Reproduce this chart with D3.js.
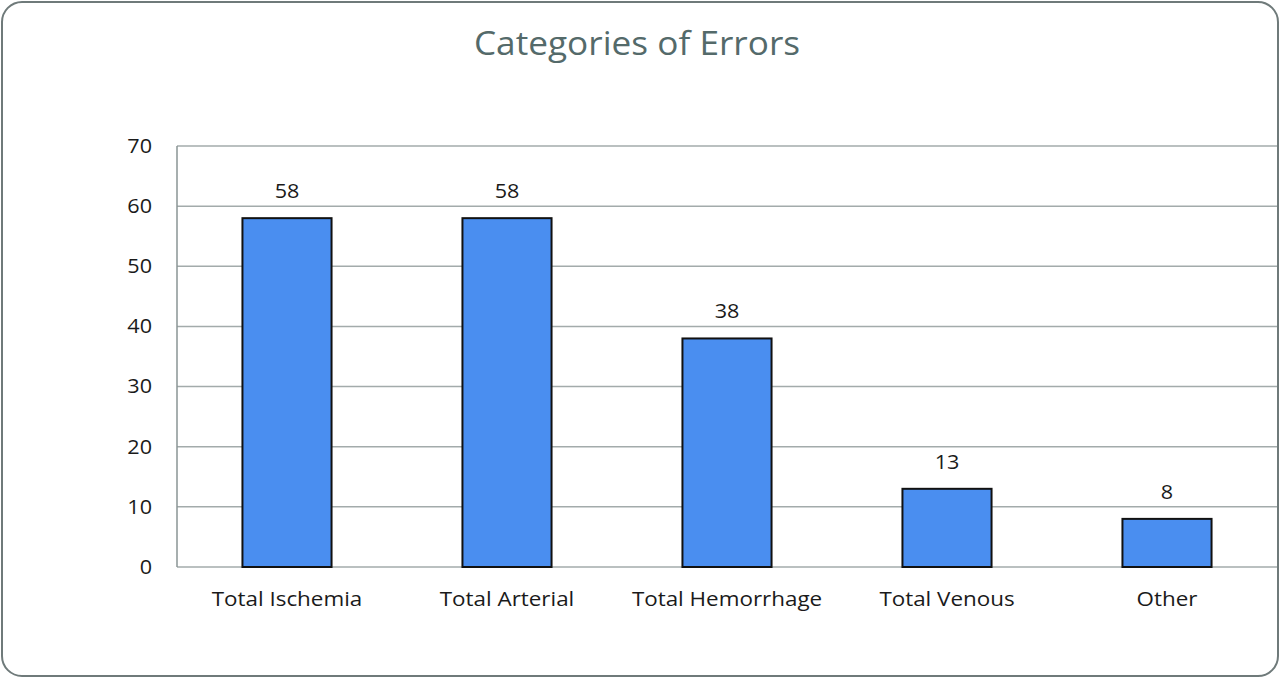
<!DOCTYPE html>
<html>
<head>
<meta charset="utf-8">
<script src="https://cdn.jsdelivr.net/npm/d3@7"></script>
<style>
  html, body { margin: 0; padding: 0; background: #fff; }
  svg { display: block; }
</style>
</head>
<body>
<svg id="chart" width="1280" height="678"></svg>
<script>
const title = "Categories of Errors";
const categories = ["Total Ischemia", "Total Arterial", "Total Hemorrhage", "Total Venous", "Other"];
const values = [58, 58, 38, 13, 8];
const yTicks = [0, 10, 20, 30, 40, 50, 60, 70];

const svg = d3.select("#chart");
const W = 1280, H = 678;
const m = { left: 177, right: 3, top: 146, bottom: 111 };

function stretch(sel, k) {
  sel.each(function () {
    const len = this.getComputedTextLength();
    d3.select(this).attr("textLength", len * k).attr("lengthAdjust", "spacingAndGlyphs");
  });
}

// frame
svg.append("rect")
  .attr("x", 2).attr("y", 2).attr("width", W - 4).attr("height", H - 4)
  .attr("rx", 20).attr("ry", 20)
  .attr("fill", "#fff").attr("stroke", "#6f7a7a").attr("stroke-width", 2);

const x = d3.scaleBand().domain(categories).range([m.left, W - m.right]).paddingInner(0.595).paddingOuter(0.2975);
const y = d3.scaleLinear().domain([0, 70]).range([H - m.bottom, m.top]);

// gridlines
svg.append("g").selectAll("line").data(yTicks).join("line")
  .attr("x1", m.left).attr("x2", W - m.right)
  .attr("y1", d => y(d)).attr("y2", d => y(d))
  .attr("stroke", "#a3abab").attr("stroke-width", 1.5);

// left axis line
svg.append("line")
  .attr("x1", m.left).attr("x2", m.left)
  .attr("y1", y(70)).attr("y2", y(0))
  .attr("stroke", "#8a9494").attr("stroke-width", 1.5);

// y axis labels
const yAxis = d3.axisLeft(y).tickValues(yTicks).tickSize(0).tickPadding(25);
const gy = svg.append("g").attr("transform", `translate(${m.left},0)`).call(yAxis);
gy.select(".domain").remove();
gy.selectAll("text")
  .attr("font-family", "'Open Sans', sans-serif").attr("font-size", 20)
  .attr("fill", "#1a1a1a")
  .call(stretch, 1.08);

// bars
svg.append("g").selectAll("rect").data(categories).join("rect")
  .attr("x", d => x(d)).attr("width", x.bandwidth())
  .attr("y", (d, i) => y(values[i])).attr("height", (d, i) => y(0) - y(values[i]))
  .attr("fill", "#4a8ef0").attr("stroke", "#111").attr("stroke-width", 2);

// value labels
svg.append("g").selectAll("text").data(categories).join("text")
  .attr("x", d => x(d) + x.bandwidth() / 2)
  .attr("y", (d, i) => y(values[i]) - 20)
  .attr("text-anchor", "middle")
  .attr("font-family", "'Open Sans', sans-serif").attr("font-size", 20)
  .attr("fill", "#1a1a1a")
  .text((d, i) => values[i])
  .call(stretch, 1.08);

// x axis labels
const xAxis = d3.axisBottom(x).tickSize(0).tickPadding(25);
const gx = svg.append("g").attr("transform", `translate(0,${y(0)})`).call(xAxis);
gx.select(".domain").remove();
gx.selectAll("text")
  .attr("font-family", "'Open Sans', sans-serif").attr("font-size", 20)
  .attr("fill", "#1a1a1a")
  .call(stretch, 1.12);

// title
svg.append("text")
  .attr("x", 637).attr("y", 55)
  .attr("text-anchor", "middle")
  .attr("font-family", "'Open Sans', sans-serif").attr("font-size", 32)
  .attr("fill", "#546a6a")
  .text(title)
  .call(stretch, 1.1);
</script>
</body>
</html>
